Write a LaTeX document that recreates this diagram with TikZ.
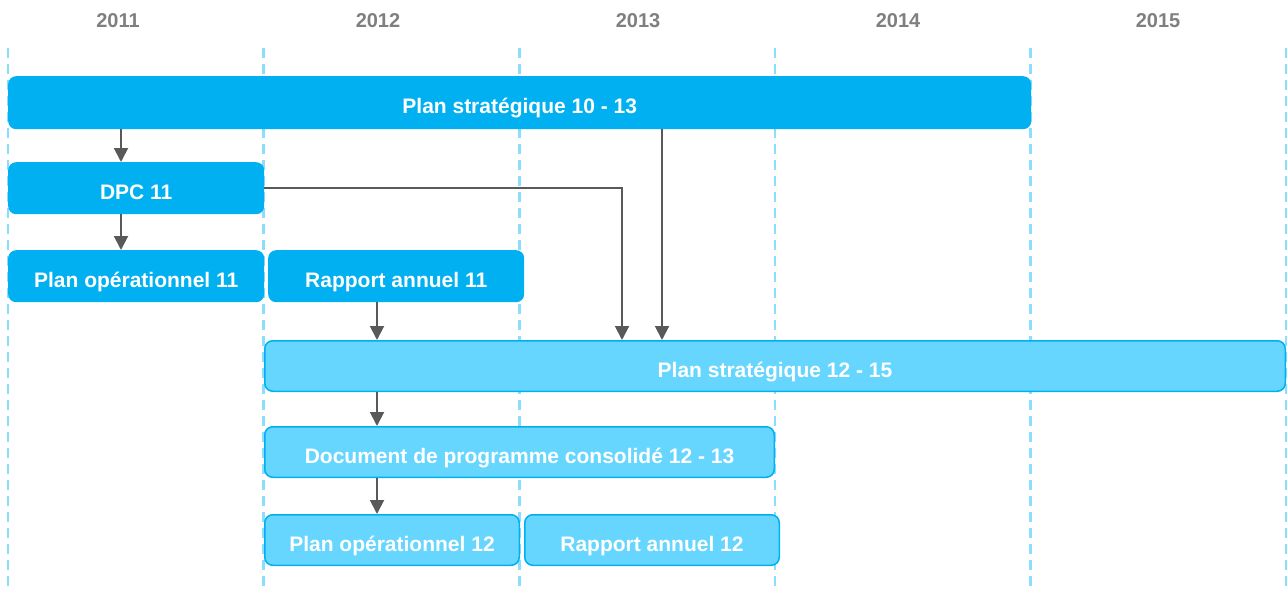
\documentclass[tikz,border=0pt]{standalone}
\usepackage{fontspec}
\setmainfont{Liberation Sans}
\usetikzlibrary{arrows.meta}
\usetikzlibrary{positioning}

\definecolor{barblue}{HTML}{00B0F0}
\definecolor{barlight}{HTML}{66D6FF}
\definecolor{gridblue}{HTML}{8CDEFF}
\definecolor{arrowgray}{HTML}{595959}
\definecolor{yeargray}{HTML}{7F7F7F}

\begin{document}
\begin{tikzpicture}[x=1pt, y=-1pt,
    font=\fontsize{21}{25}\selectfont\bfseries,
    bar/.style={rounded corners=8pt, inner sep=0pt, text=white, anchor=north west,
        text height=22pt, text depth=0pt},
    darkbar/.style={bar, fill=barblue, minimum height=52pt},
    lightbar/.style={bar, fill=barlight, draw=barblue, line width=1.5pt, minimum height=50.5pt},
    gridline/.style={gridblue, line width=2.6pt, dash pattern=on 10pt off 6pt},
    flow/.style={arrowgray, line width=2pt, -{Triangle[width=14pt,length=14pt]}},
    year/.style={yeargray, font=\fontsize{20}{24}\selectfont\bfseries}]

    \useasboundingbox (0,0) rectangle (1287,591);

    % year columns
    \foreach \x in {8,263.6,519.2,774.8,1030.4,1286}
        \draw [gridline] (\x,48) -- (\x,591);
    \foreach \yr [count=\i from 0] in {2011,2012,2013,2014,2015}
        \node [year] (y\yr) at (118+260*\i,21) {\yr};

    \node [darkbar, minimum width=1023pt, minimum height=53pt] (ps10) at (8,76) {Plan stratégique 10 - 13};
    \node [darkbar, minimum width=256pt] (dpc11) at (8,162) {DPC 11};
    \node [darkbar, minimum width=256pt] (po11) at (8,250) {Plan opérationnel 11};
    \node [darkbar, minimum width=256pt] (ra11) at (268,250) {Rapport annuel 11};

    \node [lightbar, minimum width=1020.5pt] (ps12) at (264,340) {Plan stratégique 12 - 15};
    \node [lightbar, minimum width=509.5pt] (dpc12) at (264,426) {Document de programme consolidé 12 - 13};
    \node [lightbar, minimum width=254.5pt] (po12) at (264,514) {Plan opérationnel 12};
    \node [lightbar, minimum width=254.5pt] (ra12) at (524,514) {Rapport annuel 12};

    \coordinate (c1) at (121,0);
    \coordinate (c2) at (377,0);
    \coordinate (c3) at (622,0);
    \coordinate (c4) at (662,0);

    \draw [flow] (ps10.south -| c1) -- (dpc11.north -| c1);
    \draw [flow] (dpc11.south -| c1) -- (po11.north -| c1);
    \draw [flow] (dpc11.east) -| (ps12.north -| c3);
    \draw [flow] (ps10.south -| c4) -- (ps12.north -| c4);
    \draw [flow] (ra11.south -| c2) -- (ps12.north -| c2);
    \draw [flow] (ps12.south -| c2) -- (dpc12.north -| c2);
    \draw [flow] (dpc12.south -| c2) -- (po12.north -| c2);

\end{tikzpicture}
\end{document}
